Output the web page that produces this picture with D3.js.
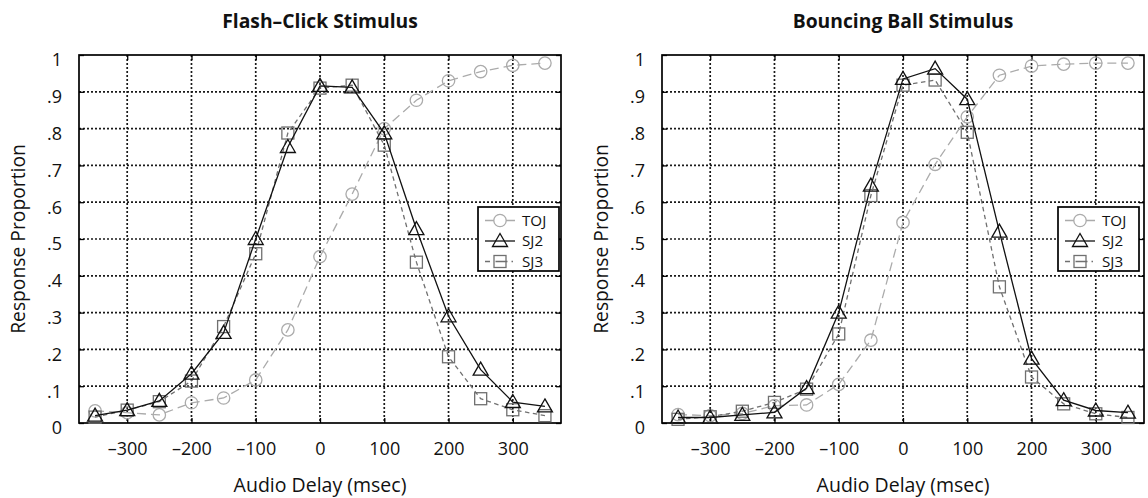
<!DOCTYPE html>
<html>
<head>
<meta charset="utf-8">
<script src="https://cdn.jsdelivr.net/npm/d3@7"></script>
<style>
  html, body { margin: 0; padding: 0; background: #fff; }
  svg { display: block; font-family: "Open Sans", "Noto Sans", sans-serif; }
</style>
</head>
<body>
<svg id="chart" width="1148" height="498"></svg>
<script>
// ---------- data ----------
const delays = [-350, -300, -250, -200, -150, -100, -50, 0, 50, 100, 150, 200, 250, 300, 350];

const xTicks = [-300, -200, -100, 0, 100, 200, 300];
const xTickLabels = ["\u2013300", "\u2013200", "\u2013100", "0", "100", "200", "300"];
const yTicks = [0, 0.1, 0.2, 0.3, 0.4, 0.5, 0.6, 0.7, 0.8, 0.9, 1];
const yTickLabels = ["0", ".1", ".2", ".3", ".4", ".5", ".6", ".7", ".8", ".9", "1"];

const panelTitles = ["Flash\u2013Click Stimulus", "Bouncing Ball Stimulus"];
const seriesNames = ["TOJ", "SJ2", "SJ3"];

const flashTOJ = [0.033, 0.028, 0.022, 0.055, 0.068, 0.117, 0.253, 0.452, 0.622, 0.800, 0.877, 0.930, 0.955, 0.972, 0.978];
const flashSJ2 = [0.020, 0.035, 0.060, 0.134, 0.245, 0.500, 0.750, 0.916, 0.912, 0.787, 0.527, 0.290, 0.145, 0.057, 0.045];
const flashSJ3 = [0.016, 0.035, 0.058, 0.114, 0.262, 0.460, 0.788, 0.910, 0.918, 0.755, 0.437, 0.180, 0.066, 0.036, 0.020];

const bounceTOJ = [0.023, 0.020, 0.026, 0.047, 0.049, 0.105, 0.225, 0.545, 0.703, 0.832, 0.945, 0.970, 0.975, 0.978, 0.978];
const bounceSJ2 = [0.015, 0.015, 0.022, 0.029, 0.095, 0.300, 0.645, 0.935, 0.963, 0.880, 0.520, 0.175, 0.062, 0.034, 0.028];
const bounceSJ3 = [0.010, 0.017, 0.032, 0.056, 0.092, 0.242, 0.618, 0.918, 0.932, 0.790, 0.370, 0.125, 0.052, 0.025, 0.015];

// ---------- styles ----------
const styles = {
  TOJ: { color: "#ababab", dash: "9,5", marker: "circle" },
  SJ2: { color: "#111111", dash: null, marker: "triangle" },
  SJ3: { color: "#707070", dash: "4.5,3.5", marker: "square" }
};

const svg = d3.select("#chart");
const W = 482, H = 368, topY = 55;
const panels = [
  { left: 79, title: panelTitles[0], data: { TOJ: flashTOJ, SJ2: flashSJ2, SJ3: flashSJ3 }, legendRight: 559 },
  { left: 662, title: panelTitles[1], data: { TOJ: bounceTOJ, SJ2: bounceSJ2, SJ3: bounceSJ3 }, legendRight: 1139 }
];

function drawMarker(sel, type, color) {
  if (type === "circle") {
    sel.append("circle").attr("r", 6.2);
  } else if (type === "triangle") {
    sel.append("path").attr("d", "M0,-7.5 L7.5,5.5 L-7.5,5.5 Z");
  } else {
    sel.append("rect").attr("x", -6).attr("y", -6).attr("width", 12).attr("height", 12);
  }
  sel.selectAll("circle,path,rect")
    .attr("fill", "none").attr("stroke", color).attr("stroke-width", 1.3);
}

panels.forEach(p => {
  const g = svg.append("g").attr("transform", `translate(${p.left},${topY})`);
  const x = d3.scaleLinear().domain([-375, 375]).range([0, W]);
  const y = d3.scaleLinear().domain([0, 1]).range([H, 0]);

  // grid
  g.append("g").selectAll("line").data(xTicks).join("line")
    .attr("x1", d => x(d)).attr("x2", d => x(d)).attr("y1", 0).attr("y2", H)
    .attr("stroke", "#1a1a1a").attr("stroke-width", 1.7).attr("stroke-dasharray", "2,2");
  g.append("g").selectAll("line").data(yTicks.slice(1, -1)).join("line")
    .attr("x1", 0).attr("x2", W).attr("y1", d => y(d)).attr("y2", d => y(d))
    .attr("stroke", "#1a1a1a").attr("stroke-width", 1.7).attr("stroke-dasharray", "2,2");

  // axes (tick labels)
  const xAxis = d3.axisBottom(x).tickValues(xTicks)
    .tickFormat((d, i) => xTickLabels[i]).tickSize(-5).tickPadding(19);
  const gx = g.append("g").attr("transform", `translate(0,${H})`).call(xAxis);
  const xAxisTop = d3.axisTop(x).tickValues(xTicks).tickFormat("").tickSize(-5);
  const gxt = g.append("g").call(xAxisTop);
  const yAxis = d3.axisLeft(y).tickValues(yTicks)
    .tickFormat((d, i) => yTickLabels[i]).tickSize(-5).tickPadding(17);
  const gy = g.append("g").call(yAxis);
  const yAxisR = d3.axisRight(y).tickValues(yTicks).tickFormat("").tickSize(-5);
  const gyr = g.append("g").attr("transform", `translate(${W},0)`).call(yAxisR);
  [gx, gxt, gy, gyr].forEach(a => {
    a.select(".domain").remove();
    a.selectAll("line").attr("stroke", "#000").attr("stroke-width", 1.3);
    a.selectAll("text").attr("fill", "#111").style("font-size", "18px")
      .style("font-family", "'Open Sans', sans-serif");
  });
  gx.selectAll("text").attr("dy", "0.71em");
  gy.selectAll("text").attr("dy", "0.6em");

  // frame
  g.append("rect").attr("x", 0).attr("y", 0).attr("width", W).attr("height", H)
    .attr("fill", "none").attr("stroke", "#000").attr("stroke-width", 1.7);

  // series lines (drawn order: TOJ, SJ3, SJ2)
  const line = d3.line().x((d, i) => x(delays[i])).y(d => y(d));
  ["TOJ", "SJ3", "SJ2"].forEach(name => {
    const s = styles[name];
    g.append("path").datum(p.data[name]).attr("d", line)
      .attr("fill", "none").attr("stroke", s.color).attr("stroke-width", 1.3)
      .attr("stroke-dasharray", s.dash);
    const mk = g.append("g").selectAll("g").data(p.data[name]).join("g")
      .attr("transform", (d, i) => `translate(${x(delays[i])},${y(d)})`);
    mk.each(function () { drawMarker(d3.select(this), s.marker, s.color); });
  });

  // title
  svg.append("text").attr("x", p.left + W / 2).attr("y", 28)
    .attr("text-anchor", "middle").style("font-weight", "700").style("font-size", "19.3px")
    .attr("fill", "#111").text(p.title);

  // axis labels
  svg.append("text").attr("x", p.left + W / 2).attr("y", 492)
    .attr("text-anchor", "middle").style("font-size", "19.5px").attr("fill", "#111")
    .text("Audio Delay (msec)");
  svg.append("text")
    .attr("transform", `translate(${p.left - 54},${topY + H / 2}) rotate(-90)`)
    .attr("text-anchor", "middle").style("font-size", "19.3px").attr("fill", "#111")
    .text("Response Proportion");

  // legend
  const lw = 81, lh = 64;
  const lg = svg.append("g").attr("transform", `translate(${p.legendRight - lw},${207})`);
  lg.append("rect").attr("width", lw).attr("height", lh)
    .attr("fill", "#fff").attr("stroke", "#000").attr("stroke-width", 1.7);
  seriesNames.forEach((name, i) => {
    const s = styles[name];
    const ry = 13.5 + i * 20.5;
    lg.append("line").attr("x1", 7).attr("x2", 37).attr("y1", ry).attr("y2", ry)
      .attr("stroke", s.color).attr("stroke-width", 1.3)
      .attr("stroke-dasharray", name === "SJ3" ? "5,5.5,12,4,1.5,3" : (name === "TOJ" ? "9,12,9" : null));
    const m = lg.append("g").attr("transform", `translate(22,${ry})`);
    drawMarker(m, s.marker, s.color);
    lg.append("text").attr("x", 44).attr("y", ry).attr("dy", "0.36em")
      .style("font-size", "15.2px").attr("fill", "#111").text(name);
  });
});
</script>
</body>
</html>
